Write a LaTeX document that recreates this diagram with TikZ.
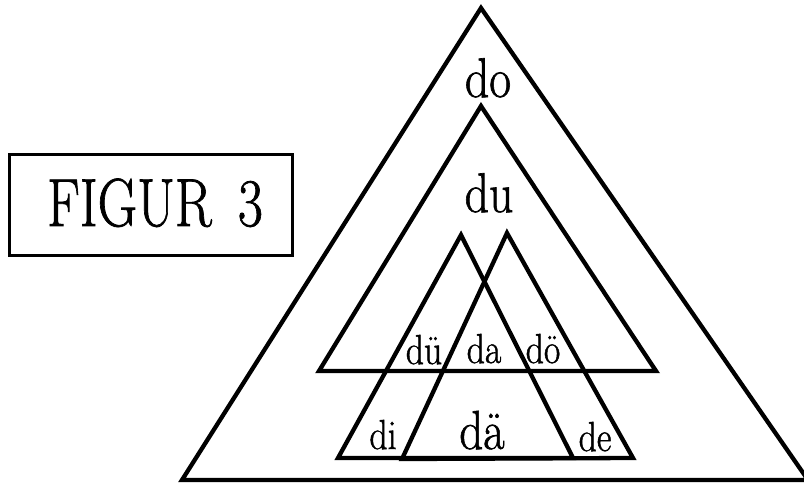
\documentclass[tikz,border=0pt]{standalone}
\usepackage{fontspec}
\newfontfamily\heavyfont{Latin Modern Roman}[FakeBold=1.2]
\newcommand{\fsz}[2]{\heavyfont\fontsize{#1}{#1}\selectfont\scalebox{0.85}[1]{#2}}
\newcommand{\fszf}[2]{\heavyfont\fontsize{#1}{#1}\selectfont\scalebox{0.8}[1]{#2}}
\begin{document}
\begin{tikzpicture}[x=1pt,y=-1pt,
  tri/.style={line width=4.3pt,line join=miter},
  lbl/.style={anchor=base,inner sep=0pt}]
\useasboundingbox (0,0) rectangle (804,484);
\clip (0,0) rectangle (804,484);
% outer triangle
\coordinate (oA) at (481,8);
\coordinate (oL) at (182,480);
\coordinate (oR) at (808,480);
\draw[tri] (oA) -- (oL) -- (oR) -- cycle;
% du triangle
\coordinate (uA) at (481,106);
\coordinate (uL) at (319,371);
\coordinate (uR) at (656,371);
\draw[tri] (uA) -- (uL) -- (uR) -- cycle;
% small triangles
\coordinate (lA) at (461,235);
\coordinate (lL) at (338,458);
\coordinate (lR) at (573,458);
\coordinate (rA) at (507,233);
\coordinate (rL) at (402,459);
\coordinate (rR) at (633,458);
\draw[tri] (lA) -- (lL) -- (lR) -- cycle;
\draw[tri] (rA) -- (rL) -- (rR) -- cycle;
% labels
\node[lbl] (do) at (488,97) {\fsz{56}{do}};
\node[lbl] (du) at (489,212) {\fsz{56}{du}};
\node[lbl] (due) at (424,364) {\fsz{42}{dü}};
\node[lbl] (da) at (484,363) {\fsz{42}{da}};
\node[lbl] (doe) at (543,363) {\fsz{42}{dö}};
\node[lbl] (di) at (383,449) {\fsz{42}{di}};
\node[lbl] (dae) at (482,449) {\fsz{55}{dä}};
\node[lbl] (de) at (595,451) {\fsz{42}{de}};
% figure label
\draw[line width=3pt] (9,155) rectangle (292,255);
\node[lbl] (fig) at (155,226) {\fszf{68}{FIGUR\hspace{0.48em}3}};
\end{tikzpicture}
\end{document}
